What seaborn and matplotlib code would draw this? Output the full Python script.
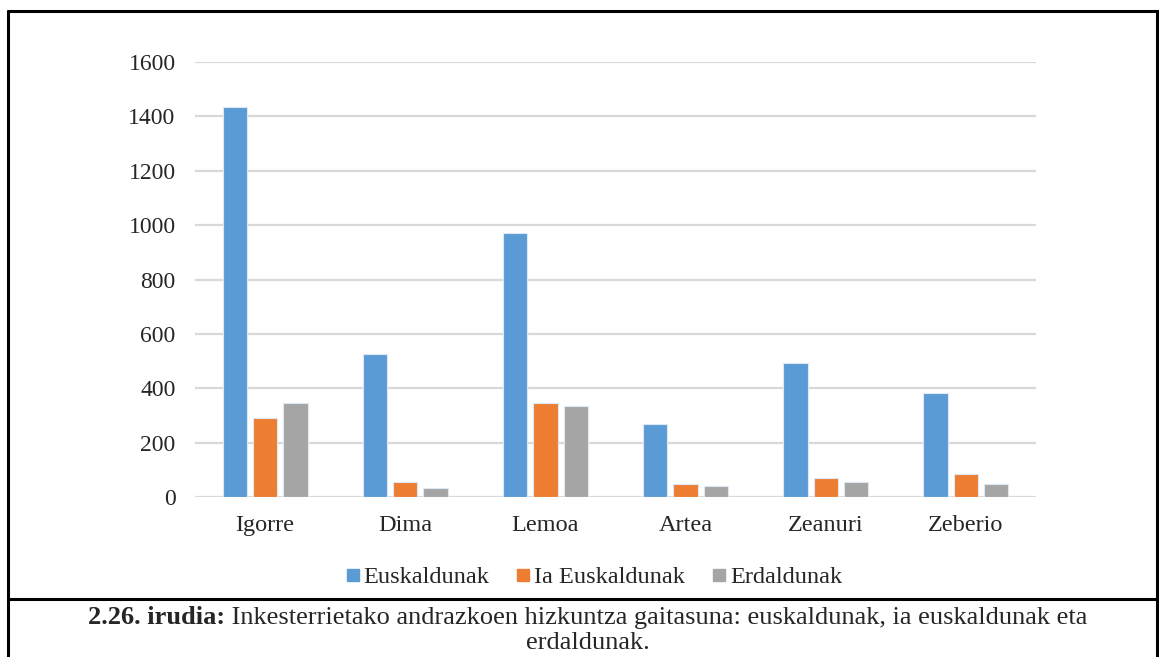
import matplotlib
matplotlib.use("Agg")
import matplotlib.pyplot as plt
from matplotlib.lines import Line2D
import seaborn as sns
import pandas as pd

# Herriak eta hizkuntza gaitasuna (andrazkoak)
herriak = ["Igorre", "Dima", "Lemoa", "Artea", "Zeanuri", "Zeberio"]
euskaldunak = [1435, 525, 970, 268, 493, 381]
ia_euskaldunak = [292, 54, 345, 47, 69, 83]
erdaldunak = [345, 32, 336, 39, 54, 47]
serieak = ["Euskaldunak", "Ia Euskaldunak", "Erdaldunak"]
koloreak = ["#5B9BD5", "#ED7D31", "#A5A5A5"]
y_ticks = [0, 200, 400, 600, 800, 1000, 1200, 1400, 1600]

df = pd.DataFrame({
    "herria": herriak * 3,
    "saila": sum([[s] * len(herriak) for s in serieak], []),
    "balioa": euskaldunak + ia_euskaldunak + erdaldunak,
})

sns.set_theme(style="white")
plt.rcParams["font.family"] = ["Liberation Serif", "DejaVu Serif"]

W, H = 1159, 657
fig = plt.figure(figsize=(W / 100, H / 100), dpi=100)
ax = fig.add_axes([195 / W, 1 - 497 / H, (1036 - 195) / W, (497 - 62) / H])

sns.barplot(data=df, x="herria", y="balioa", hue="saila", order=herriak,
            hue_order=serieak, palette=koloreak, width=0.65, gap=0.2,
            edgecolor="#DCE9F5", linewidth=0.8, saturation=1, ax=ax,
            legend=False, zorder=3)

ax.set_ylim(0, 1600)
ax.set_yticks(y_ticks)
ax.set_yticklabels([str(v) for v in y_ticks])
ax.yaxis.grid(True, color="#D9D9D9", linewidth=1.6, zorder=0)
ax.set_axisbelow(True)
for s in ax.spines.values():
    s.set_visible(False)
ax.tick_params(axis="y", length=0, pad=14, labelsize=17, labelcolor="#262626")
ax.tick_params(axis="x", length=0, pad=13, labelsize=17.5, labelcolor="#262626")
ax.set_xlabel("")
ax.set_ylabel("")

handles = [Line2D([], [], marker="s", linestyle="none", markersize=8.5,
                  markerfacecolor=c, markeredgecolor=c) for c in koloreak]
fig.legend(handles, serieak, loc="center", bbox_to_anchor=(592 / W, 1 - 577 / H),
           ncol=3, frameon=False, fontsize=17.5, handletextpad=0.0,
           columnspacing=0.95, handlelength=0.9, labelcolor="#262626")

# Koadroa eta oina
def hline(y, x0=8, x1=1158, lw=2.2):
    fig.add_artist(Line2D([x0 / W, x1 / W], [1 - y / H, 1 - y / H], color="black",
                          linewidth=lw, transform=fig.transFigure))

def vline(x, y0=11, y1=657, lw=2.2):
    fig.add_artist(Line2D([x / W, x / W], [1 - y0 / H, 1 - y1 / H], color="black",
                          linewidth=lw, transform=fig.transFigure))

hline(11)
hline(599)
vline(8)
vline(1157)

bold_txt = "2.26. irudia:"
norm_txt = " Inkesterrietako andrazkoen hizkuntza gaitasuna: euskaldunak, ia euskaldunak eta"
fs = 19
renderer = fig.canvas.get_renderer()
tb = fig.text(0, 0, bold_txt, fontsize=fs, fontweight="bold")
tn = fig.text(0, 0, norm_txt, fontsize=fs)
wb = tb.get_window_extent(renderer).width
wn = tn.get_window_extent(renderer).width
x0 = 588 - (wb + wn) / 2
y1 = 1 - 618 / H
tb.set_position((x0 / W, y1))
tb.set_va("center")
tn.set_position(((x0 + wb) / W, y1))
tn.set_va("center")
fig.text(588 / W, 1 - 643 / H, "erdaldunak.", fontsize=fs, ha="center", va="center")

fig.savefig("out.png", dpi=100)
